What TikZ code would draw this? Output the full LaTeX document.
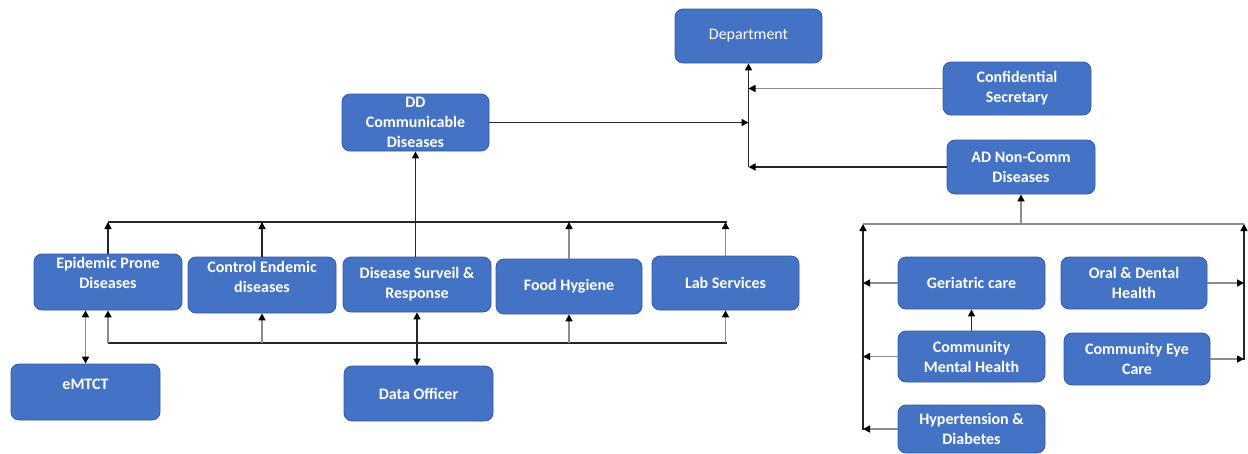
\documentclass[tikz,border=0pt]{standalone}
\usepackage{fontspec}
\setmainfont{Carlito}
\usetikzlibrary{arrows.meta}
\definecolor{boxblue}{RGB}{68,114,196}
\definecolor{boxedge}{RGB}{52,90,160}
\definecolor{lineg}{RGB}{140,140,140}
\begin{document}
\begin{tikzpicture}[x=1pt,y=-1pt,
  box/.style={draw=boxedge, line width=0.8pt, fill=boxblue, rounded corners=8pt,
    inner sep=0pt, text=white, align=center,
    font=\bfseries\fontsize{16}{20}\selectfont},
  lbl/.style={inner sep=0pt, text=white, align=center,
    font=\bfseries\fontsize{16}{20}\selectfont},
  tip/.style={-{Triangle[length=7pt,width=7pt,color=black]}},
  both/.style={{Triangle[length=7pt,width=7pt,color=black]}-{Triangle[length=7pt,width=7pt,color=black]}},
  dk/.style={draw=black!85, line width=1.5pt},
  lt/.style={draw=lineg, line width=1.6pt},
]
\useasboundingbox (0,0) rectangle (1248,453);

% top level
\node[box, minimum width=147pt, minimum height=54pt, font=\fontsize{16}{20}\selectfont] (dept) at (748.5,36) {Department};
\node[box, minimum width=148pt, minimum height=53pt] (conf) at (1017,88.5) {Confidential\\Secretary};
\node[box, minimum width=148pt, minimum height=54pt] (adnc) at (1021,167) {AD Non-Comm\\Diseases};
\node[box, minimum width=147pt, minimum height=57pt] (ddcd) at (415.5,122.5) {DD\\Communicable\\Diseases};

% communicable diseases units
\node[box, minimum width=148pt, minimum height=56pt] (epd) at (108,282) {};
\node[lbl] (epdT) at ([yshift=9pt]epd.center) {Epidemic Prone\\Diseases};
\node[box, minimum width=148pt, minimum height=56pt] (ced) at (262,285) {};
\node[lbl] (cedT) at ([yshift=8.5pt]ced.center) {Control Endemic\\diseases};
\node[box, minimum width=148pt, minimum height=55pt] (dsr) at (417,284.5) {Disease Surveil \&\\Response};
\node[box, minimum width=146pt, minimum height=55pt] (food) at (569,286.5) {Food Hygiene};
\node[box, minimum width=147pt, minimum height=54pt] (lab) at (725.5,283) {Lab Services};
\node[box, minimum width=149pt, minimum height=56pt] (emtct) at (85.5,392) {};
\node[lbl] (emtctT) at ([yshift=8pt]emtct.center) {eMTCT};
\node[box, minimum width=149pt, minimum height=55pt] (data) at (418.5,393.5) {Data Officer};

% non-communicable diseases units
\node[box, minimum width=147pt, minimum height=52pt] (ger) at (971.5,283) {Geriatric care};
\node[box, minimum width=146pt, minimum height=52pt] (oral) at (1134,283) {Oral \& Dental\\Health};
\node[box, minimum width=147pt, minimum height=51pt] (cmh) at (971.5,356.5) {Community\\Mental Health};
\node[box, minimum width=146pt, minimum height=52pt] (eye) at (1137,359) {Community Eye\\Care};
\node[box, minimum width=147pt, minimum height=48pt] (hyp) at (971.5,429) {Hypertension \&\\Diabetes};

% bus coordinates
\coordinate (busT) at (108,222);
\coordinate (busTR) at (727,222);
\coordinate (busB) at (108,343);
\coordinate (busBR) at (727,343);
\coordinate (rbusL) at (863,224);
\coordinate (rbusR) at (1244,224);
\coordinate (rbusLb) at (863,430);
\coordinate (rbusRb) at (1244,360);

% upper bus of the communicable units
\draw[dk] (busT) -- (busTR);
\draw[dk,tip] (epd.north) -- (epd.north |- busT);
\draw[dk,tip] (ced.north) -- (ced.north |- busT);
\draw[dk,tip] (ddcd.south |- dsr.north) -- (ddcd.south);
\draw[lt,tip] (food.north) -- (food.north |- busT);
\draw[lt,tip] (lab.north) -- (lab.north |- busT);

% lower bus of the communicable units
\draw[dk] (busB) -- (busBR);
\draw[lt,tip] (epd.south |- busB) -- (epd.south);
\draw[lt,tip] (ced.south |- busB) -- (ced.south);
\draw[lt,tip] (food.south |- busB) -- (food.south);
\draw[lt,tip] (lab.south |- busB) -- (lab.south);
\draw[dk,both] (dsr.south) -- (dsr.south |- data.north);
\draw[lt,both] (emtct.north) -- (emtct.north |- epd.south);

% links to the department
\draw[dk,tip] (ddcd.east) -- (ddcd.east -| dept.south);
\draw[dk,tip] (dept.south |- adnc.west) -- (dept.south);
\draw[lt,tip] (conf.west) -- (conf.west -| dept.south);
\draw[dk,tip] (adnc.west) -- (adnc.west -| dept.south);

% non-communicable group
\draw[lt] (rbusL) -- (rbusR);
\draw[lt,tip] (adnc.south |- rbusL) -- (adnc.south);
\draw[dk,tip] (rbusLb) -- (rbusL);
\draw[dk,tip] (rbusRb) -- (rbusR);
\draw[lt,tip] (ger.west) -- (ger.west -| rbusL);
\draw[lt,tip] (cmh.west) -- (cmh.west -| rbusL);
\draw[lt,tip] (hyp.west) -- (hyp.west -| rbusL);
\draw[dk,tip] (cmh.north) -- (ger.south);
\draw[lt,tip] (oral.east) -- (oral.east -| rbusR);
\draw[lt,tip] (eye.east) -- (eye.east -| rbusR);
\end{tikzpicture}
\end{document}
